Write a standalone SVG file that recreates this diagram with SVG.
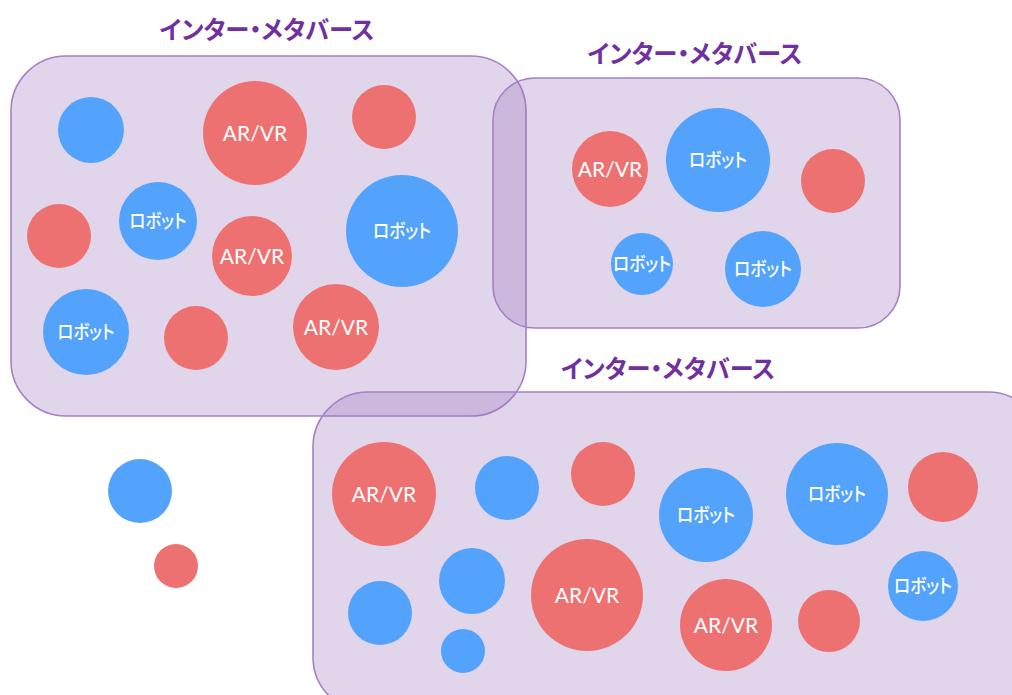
<svg xmlns="http://www.w3.org/2000/svg" width="1012" height="695" viewBox="0 0 1012 695">
<style>
.box{fill:rgb(155,115,189);fill-opacity:0.3;stroke:#a680c6;stroke-width:1.6}
.title{font-family:"Noto Sans CJK JP","Noto Sans",sans-serif;font-weight:bold;font-size:25px;fill:#7030a0;text-anchor:middle;font-feature-settings:"palt"}
.r{fill:#ee7171}
.b{fill:#53a3fd}
.t{font-family:Lato,"Liberation Sans",sans-serif;font-size:21px;fill:#fff;text-anchor:middle}
.j{font-family:"Noto Sans CJK JP",sans-serif;font-size:19px;fill:#fff;text-anchor:middle;font-feature-settings:"palt";font-weight:500}
</style>
<rect width="1012" height="695" fill="#fff"/>
<g id="group1">
<rect class="box" x="11" y="56" width="515" height="360" rx="55"/>
<text class="title" x="267" y="39" textLength="215" lengthAdjust="spacingAndGlyphs">インター・メタバース</text>
</g>
<g id="group2">
<rect class="box" x="493" y="78" width="407" height="250" rx="42"/>
<text class="title" x="695" y="63" textLength="215" lengthAdjust="spacingAndGlyphs">インター・メタバース</text>
</g>
<g id="group3">
<rect class="box" x="313" y="392" width="730" height="320" rx="55"/>
<text class="title" x="668" y="378" textLength="214" lengthAdjust="spacingAndGlyphs">インター・メタバース</text>
</g>
<g id="connectors"/>
<g id="n1"><circle class="b" cx="91" cy="130" r="33"/></g>
<g id="n2"><circle class="r" cx="255" cy="133" r="52"/><text class="t" x="255" y="141">AR/VR</text></g>
<g id="n3"><circle class="r" cx="384" cy="117" r="32"/></g>
<g id="n4"><circle class="r" cx="59" cy="236" r="32"/></g>
<g id="n5"><circle class="b" cx="158" cy="221" r="39"/><text class="j" x="158" y="228" textLength="57" lengthAdjust="spacingAndGlyphs">ロボット</text></g>
<g id="n6"><circle class="r" cx="252" cy="256" r="40"/><text class="t" x="252" y="264">AR/VR</text></g>
<g id="n7"><circle class="b" cx="402" cy="231" r="56"/><text class="j" x="402" y="238" textLength="58" lengthAdjust="spacingAndGlyphs">ロボット</text></g>
<g id="n8"><circle class="b" cx="86" cy="332" r="43"/><text class="j" x="86" y="339" textLength="57" lengthAdjust="spacingAndGlyphs">ロボット</text></g>
<g id="n9"><circle class="r" cx="196" cy="338" r="32"/></g>
<g id="n10"><circle class="r" cx="336" cy="327" r="43"/><text class="t" x="336" y="335">AR/VR</text></g>
<g id="n11"><circle class="r" cx="610" cy="169" r="38"/><text class="t" x="610" y="177">AR/VR</text></g>
<g id="n12"><circle class="b" cx="718" cy="160" r="52"/><text class="j" x="718" y="167" textLength="58" lengthAdjust="spacingAndGlyphs">ロボット</text></g>
<g id="n13"><circle class="r" cx="833" cy="181" r="32"/></g>
<g id="n14"><circle class="b" cx="642" cy="264" r="31"/><text class="j" x="642" y="271" textLength="58" lengthAdjust="spacingAndGlyphs">ロボット</text></g>
<g id="n15"><circle class="b" cx="763" cy="269" r="38"/><text class="j" x="763" y="276" textLength="58" lengthAdjust="spacingAndGlyphs">ロボット</text></g>
<g id="n16"><circle class="r" cx="384" cy="494" r="52"/><text class="t" x="384" y="502">AR/VR</text></g>
<g id="n17"><circle class="b" cx="507" cy="488" r="32"/></g>
<g id="n18"><circle class="r" cx="603" cy="474" r="32"/></g>
<g id="n19"><circle class="b" cx="706" cy="515" r="47"/><text class="j" x="706" y="522" textLength="58" lengthAdjust="spacingAndGlyphs">ロボット</text></g>
<g id="n20"><circle class="b" cx="837" cy="494" r="51"/><text class="j" x="837" y="501" textLength="58" lengthAdjust="spacingAndGlyphs">ロボット</text></g>
<g id="n21"><circle class="r" cx="943" cy="487" r="35"/></g>
<g id="n22"><circle class="b" cx="380" cy="613" r="32"/></g>
<g id="n23"><circle class="b" cx="472" cy="581" r="33"/></g>
<g id="n24"><circle class="b" cx="463" cy="651" r="22"/></g>
<g id="n25"><circle class="r" cx="587" cy="595" r="56"/><text class="t" x="587" y="603">AR/VR</text></g>
<g id="n26"><circle class="r" cx="726" cy="625" r="46"/><text class="t" x="726" y="633">AR/VR</text></g>
<g id="n27"><circle class="r" cx="829" cy="621" r="31"/></g>
<g id="n28"><circle class="b" cx="923" cy="586" r="35"/><text class="j" x="923" y="593" textLength="58" lengthAdjust="spacingAndGlyphs">ロボット</text></g>
<g id="n29"><circle class="b" cx="140" cy="491" r="32"/></g>
<g id="n30"><circle class="r" cx="176" cy="566" r="22"/></g>
</svg>
